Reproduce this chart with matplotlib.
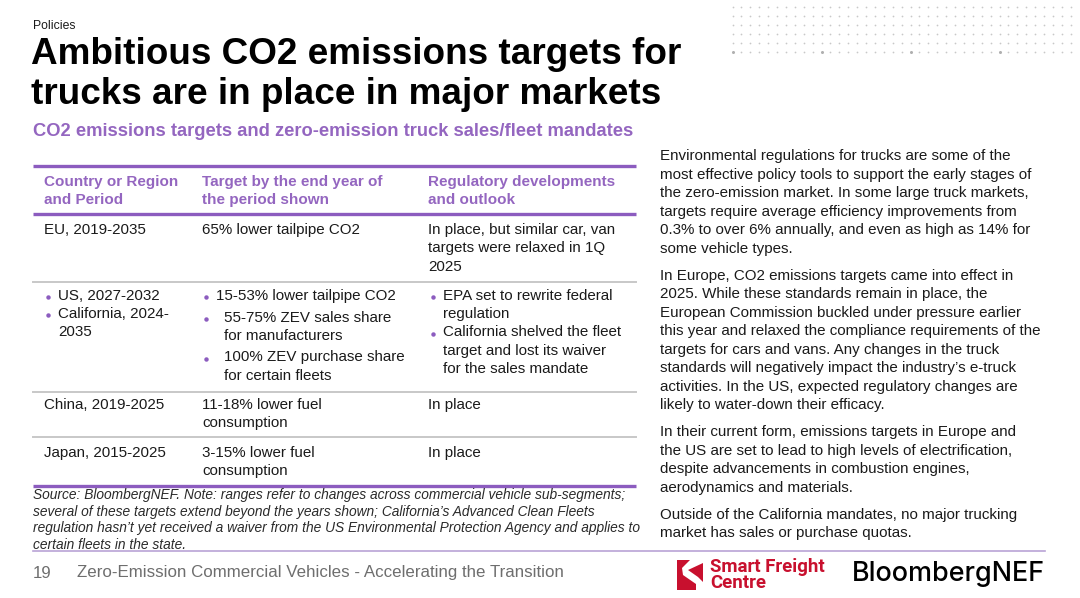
import matplotlib
matplotlib.use("Agg")
import matplotlib.pyplot as plt
from matplotlib.patches import Rectangle, Polygon

# ---------------- data ----------------
section = "Policies"
title_lines = ["Ambitious CO2 emissions targets for", "trucks are in place in major markets"]
subtitle = "CO2 emissions targets and zero-emission truck sales/fleet mandates"

headers = [["Country or Region", "and Period"],
           ["Target by the end year of", "the period shown"],
           ["Regulatory developments", "and outlook"]]

row_eu = [["EU, 2019-2035"],
          ["65% lower tailpipe CO2"],
          ["In place, but similar car, van", "targets were relaxed in 1Q", "2025"]]
row_us_col1 = [["US, 2027-2032"], ["California, 2024-", "2035"]]
row_us_col2 = [["15-53% lower tailpipe CO2"], ["55-75% ZEV sales share", "for manufacturers"],
               ["100% ZEV purchase share", "for certain fleets"]]
row_us_col3 = [["EPA set to rewrite federal", "regulation"],
               ["California shelved the fleet", "target and lost its waiver", "for the sales mandate"]]
row_cn = [["China, 2019-2025"], ["11-18% lower fuel", "consumption"], ["In place"]]
row_jp = [["Japan, 2015-2025"], ["3-15% lower fuel", "consumption"], ["In place"]]

source_lines = ["Source: BloombergNEF. Note: ranges refer to changes across commercial vehicle sub-segments;",
                "several of these targets extend beyond the years shown; California\u2019s Advanced Clean Fleets",
                "regulation hasn\u2019t yet received a waiver from the US Environmental Protection Agency and applies to",
                "certain fleets in the state."]

paragraphs = [
    ["Environmental regulations for trucks are some of the",
     "most effective policy tools to support the early stages of",
     "the zero-emission market. In some large truck markets,",
     "targets require average efficiency improvements from",
     "0.3% to over 6% annually, and even as high as 14% for",
     "some vehicle types."],
    ["In Europe, CO2 emissions targets came into effect in",
     "2025. While these standards remain in place, the",
     "European Commission buckled under pressure earlier",
     "this year and relaxed the compliance requirements of the",
     "targets for cars and vans. Any changes in the truck",
     "standards will negatively impact the industry\u2019s e-truck",
     "activities. In the US, expected regulatory changes are",
     "likely to water-down their efficacy."],
    ["In their current form, emissions targets in Europe and",
     "the US are set to lead to high levels of electrification,",
     "despite advancements in combustion engines,",
     "aerodynamics and materials."],
    ["Outside of the California mandates, no major trucking",
     "market has sales or purchase quotas."],
]
page_no = "19"
footer = "Zero-Emission Commercial Vehicles - Accelerating the Transition"

# ---------------- style ----------------
FONT = "Liberation Sans"
PURPLE = "#8C5CBF"
PURPLE_T = "#9466C0"
GRAY_LINE = "#C8C8C8"
TXT = "#1A1A1A"
BODY = 10.9

fig = plt.figure(figsize=(10.8, 5.98), dpi=100)
ax = fig.add_axes([0, 0, 1, 1])
ax.set_xlim(0, 1080)
ax.set_ylim(598, 0)
ax.axis("off")

def T(x, y, s, size=BODY, color=TXT, weight="normal", style="normal", family=FONT, ha="left", va="center"):
    ax.text(x, y, s, fontsize=size, color=color, fontweight=weight, fontstyle=style,
            family=family, ha=ha, va=va)

# dots grid top right
for r in range(6):
    y = 6.5 + r * 9.0
    for c in range(39):
        x = 732.5 + c * 8.9
        big = (r == 5 and c % 10 == 0)
        ax.plot(x, y, "o", ms=2.2 if big else 1.25, color="#B0B0B0" if big else "#C8C8C8", mew=0)

# headings
T(33, 29, section, size=8.8, va="baseline")
T(31, 64.5, title_lines[0], size=26.6, weight="bold", color="black", va="baseline")
T(31, 104, title_lines[1], size=26.6, weight="bold", color="black", va="baseline")
T(33, 135.5, subtitle, size=13.25, weight="bold", color=PURPLE_T, va="baseline")

# table lines
x0, x1 = 33, 636
ax.plot([x0, x1], [165.5, 165.5], color=PURPLE, lw=2.4, solid_capstyle="butt")
ax.plot([x0, x1], [213.5, 213.5], color=PURPLE, lw=2.4, solid_capstyle="butt")
for yl in (282, 392, 437):
    ax.plot([x0, x1], [yl, yl], color=GRAY_LINE, lw=1.4)
ax.plot([x0, x1], [485.5, 485.5], color=PURPLE, lw=2.4, solid_capstyle="butt")

colx = [44, 202, 428]
LH = 18.3
for cx, hd in zip(colx, headers):
    for i, s in enumerate(hd):
        T(cx, 182 + i * LH, s, size=11, weight="bold", color=PURPLE_T)

def cell(cx, y, lines):
    for i, s in enumerate(lines):
        T(cx, y + i * LH, s)

for cx, lines in zip(colx, row_eu):
    cell(cx, 230, lines)

def bullets(bx, tx, ys, items):
    for y, lines, t in zip(ys, items, tx):
        ax.plot(bx, y + 1, "o", ms=3.2, color=PURPLE, mew=0)
        cell(t, y, lines)

bullets(48, [58, 58], [296, 314], row_us_col1)
bullets(206, [216, 224, 224], [296, 317.5, 357.5], row_us_col2)
bullets(433, [443, 443], [296, 332.5], row_us_col3)

for cx, lines in zip(colx, row_cn):
    cell(cx, 405, lines)
for cx, lines in zip(colx, row_jp):
    cell(cx, 453, lines)

# source
for i, s in enumerate(source_lines):
    T(33, 495 + i * 16.7, s, size=9.9, style="italic", color="#2A2A2A")

# right column
y = 156
for p in paragraphs:
    for s in p:
        T(660, y, s)
        y += 18.55
    y += 8.2

# footer rule
ax.plot([33, 1045], [551, 551], color="#B9A3D6", lw=1.2)
T(33, 573, page_no, size=12.15, color="#6E6E6E")
T(77, 573, footer, size=12.15, color="#6E6E6E")

# Smart Freight Centre logo
RED = "#C8102E"
ax.add_patch(Rectangle((677, 560), 26, 30, color=RED, lw=0))
ax.add_patch(Polygon([[690, 560], [703, 560], [703, 563], [688, 570], [698, 577], [703, 582], [703, 590],
                      [696, 590], [696, 584], [683, 575], [682, 568]], closed=True, color="white", lw=0))
T(710, 567.5, "Smart Freight", size=13.4, weight="bold", color=RED, family="Roboto")
T(710, 583.5, "Centre", size=13.4, weight="bold", color=RED, family="Roboto")
T(852, 574, "BloombergNEF", size=19.4, weight="medium", color="black", family="Inter")

fig.savefig("out.png", dpi=100)
